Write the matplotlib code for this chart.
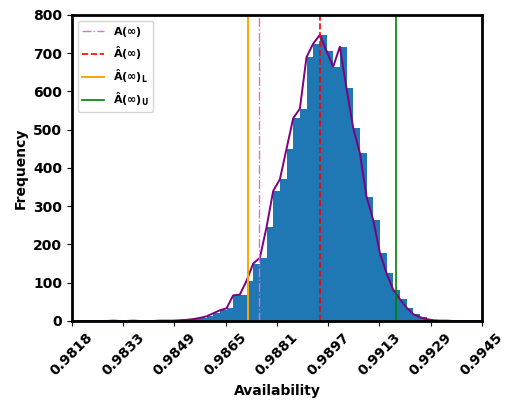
import numpy as np
import matplotlib
matplotlib.use('Agg')
import matplotlib.pyplot as plt

plt.rcParams['font.weight'] = 'bold'
plt.rcParams['axes.labelweight'] = 'bold'
plt.rcParams['mathtext.fontset'] = 'dejavusans'
plt.rcParams['mathtext.default'] = 'bf'

# axis range of the simulated availability values
x_min, x_max = 0.981755, 0.994475

# histogram bins (left edge of first bin, width, counts per bin)
bin_start = 0.98179
bin_width = 0.000207
counts = [0, 0, 0, 0, 0, 0, 1, 0, 0, 1, 0, 0, 0, 1, 1, 1, 2,
          3, 5, 8, 12, 20, 28, 33, 67, 69, 105, 150,
          165, 245, 340, 370, 450, 530, 555, 690, 725,
          748, 706, 665, 717, 608, 505, 439, 325, 264, 178,
          125, 82, 57, 35, 18, 10, 5, 2, 1, 1, 0, 0, 0, 0, 0]

# reference lines
a_true = 0.987557
a_hat = 0.989449
a_low = 0.987215
a_up = 0.991797

edges = bin_start + bin_width * np.arange(len(counts) + 1)

fig = plt.figure(figsize=(5.05, 4.03), dpi=100)
ax = fig.add_axes([0.1426, 0.2035, 0.8114, 0.7593])

ax.bar(edges[:-1], counts, width=bin_width, align='edge', color='#1f77b4')
ax.plot(edges[:-1], counts, color='purple', lw=1.4)

ax.axvline(a_true, color='orchid', ls='-.', lw=1, label=r'$A(\infty)$')
ax.axvline(a_hat, color='red', ls='--', lw=1.2, label=r'$\hat{A}(\infty)$')
ax.axvline(a_low, color='orange', ls='-', lw=1.4, label=r'$\hat{A}(\infty)_L$')
ax.axvline(a_up, color='green', ls='-', lw=1.2, label=r'$\hat{A}(\infty)_U$')

ax.set_xlim(x_min, x_max)
ax.set_ylim(0, 800)
ticks = np.linspace(x_min, x_max, 9)
ax.set_xticks(ticks)
ax.set_xticklabels([f'{t:.4f}' for t in ticks], rotation=45, fontsize=10, fontweight='bold')
ax.set_yticks(range(0, 801, 100))
ax.tick_params(axis='y', labelsize=10)
for s in ax.spines.values():
    s.set_linewidth(2)

ax.set_xlabel('Availability', fontsize=10, fontweight='bold')
ax.set_ylabel('Frequency', fontsize=10, fontweight='bold')
ax.legend(loc='upper left', fontsize=8)

fig.savefig('out.png', dpi=100)
